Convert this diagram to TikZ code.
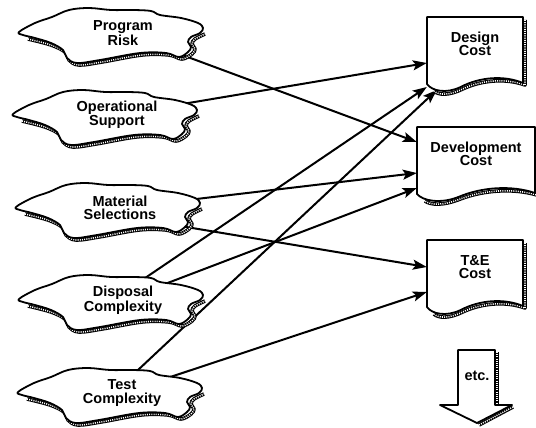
\documentclass[tikz,border=0pt]{standalone}
\usepackage{fontspec}
\setmainfont{Liberation Sans}
\usetikzlibrary{arrows.meta}

\pgfdeclarelayer{lines}
\pgfdeclarelayer{shapes}
\pgfsetlayers{lines,shapes,main}

\tikzset{
  outline/.style={line width=1.8pt, line join=round},
  hatch/.style={line width=3.6pt, line join=round,
    postaction={draw=white, line width=1.6pt, dash pattern=on 1pt off 1.2pt}},
  lbl/.style={align=center, font=\fontsize{14.5}{13.5}\selectfont\bfseries},
  arr/.style={line width=2pt, -{Stealth[length=14pt,width=10pt,inset=3pt]}},
  % irregular cloud around a driver
  cloudshape/.pic={
    \draw[hatch] plot[smooth, tension=0.6] coordinates {(-95,6) (-72,12) (-58,19)
      (-54,27) (-44,32) (-21,29) (19,22) (46,22) (59,26) (69,21) (72,16) (69,11)
      (72,6) (82,1)};
    \draw[outline, fill=white] plot[smooth cycle, tension=0.6] coordinates {
      (-104,-1) (-88,-10) (-71,-16) (-54,-23) (-34,-25) (-12,-23) (10,-23) (28,-22)
      (37,-18) (58,-15) (75,-10) (80,-5) (77,0) (68,4) (65,9) (68,14) (65,19) (56,24)
      (43,20) (17,20) (-23,27) (-46,30) (-56,25) (-60,17) (-72,10) (-88,5) (-100,2)};
  }
}

% document box with wavy bottom: node, half width
\newcommand\docbox[2]{%
  \begin{scope}[shift={(#1.center)}]
    \draw[hatch] ({#2+2},-24) -- ({#2+2},41) .. controls ({0.6*#2+2},34) and ({0.1*#2+2},36)
      .. ({-0.3*#2+2},45) .. controls ({-0.6*#2+2},52) and ({-0.8*#2+2},51) .. ({-0.9*#2+2},47);
    \draw[outline, fill=white] (-#2,-27) -- (#2,-27) -- (#2,39)
      .. controls ({0.6*#2},31) and ({0.1*#2},33) .. ({-0.3*#2},43)
      .. controls ({-0.6*#2},50) and ({-0.9*#2},47) .. (-#2,40) -- cycle;
  \end{scope}}

\begin{document}
\begin{tikzpicture}[x=1pt, y=-1pt]
  \useasboundingbox (0,0) rectangle (536,428);

  % drivers
  \node[lbl] (risk) at (123,33)  {Program\\Risk};
  \node[lbl] (ops)  at (117,115) {Operational\\Support};
  \node[lbl] (mat)  at (120,208) {Material\\Selections};
  \node[lbl] (disp) at (123,300) {Disposal\\Complexity};
  \node[lbl] (test) at (122,393) {Test\\Complexity};

  % costs
  \node[lbl, minimum width=96pt]  (design) at (475,44)  {Design\\Cost};
  \node[lbl, minimum width=118pt] (dev)    at (476,154) {Development\\Cost};
  \node[lbl, minimum width=96pt]  (tecost) at (475,267) {T\&E\\Cost};
  \node[lbl] (etc) at (477,376) {etc.};

  \begin{pgfonlayer}{shapes}
    \foreach \n in {risk,ops,mat,disp,test}
      \pic at (\n) {cloudshape};
    \docbox{design}{48}
    \docbox{dev}{59}
    \docbox{tecost}{48}
    \begin{scope}[shift={(etc.center)}]
      \draw[hatch] (20,-24) -- (20,30);
      \draw[hatch] (36,31) -- (2,49);
      \draw[outline, fill=white] (-19,-26) -- (18,-26) -- (18,29) -- (35,29) -- (0,47)
        -- (-37,29) -- (-19,29) -- cycle;
    \end{scope}
  \end{pgfonlayer}

  \begin{pgfonlayer}{lines}
    \draw[arr] (risk.center) -- ([shift={(0,-12)}]dev.west);
    \draw[arr] (ops.center) -- ([shift={(0,19)}]design.west);
    \draw[arr] (mat.center) -- ([shift={(0,19)}]dev.west);
    \draw[arr] ([shift={(0,8)}]mat.center) -- (tecost.west);
    \draw[arr] ([shift={(0,-7)}]disp.center) -- ([shift={(0,43)}]design.west);
    \draw[arr] (disp.center) -- ([shift={(0,34)}]dev.west);
    \draw[arr] ([shift={(0,-8)}]test.center) -- ([shift={(10,46)}]design.west);
    \draw[arr] (test.center) -- ([shift={(0,25)}]tecost.west);
  \end{pgfonlayer}
\end{tikzpicture}
\end{document}
